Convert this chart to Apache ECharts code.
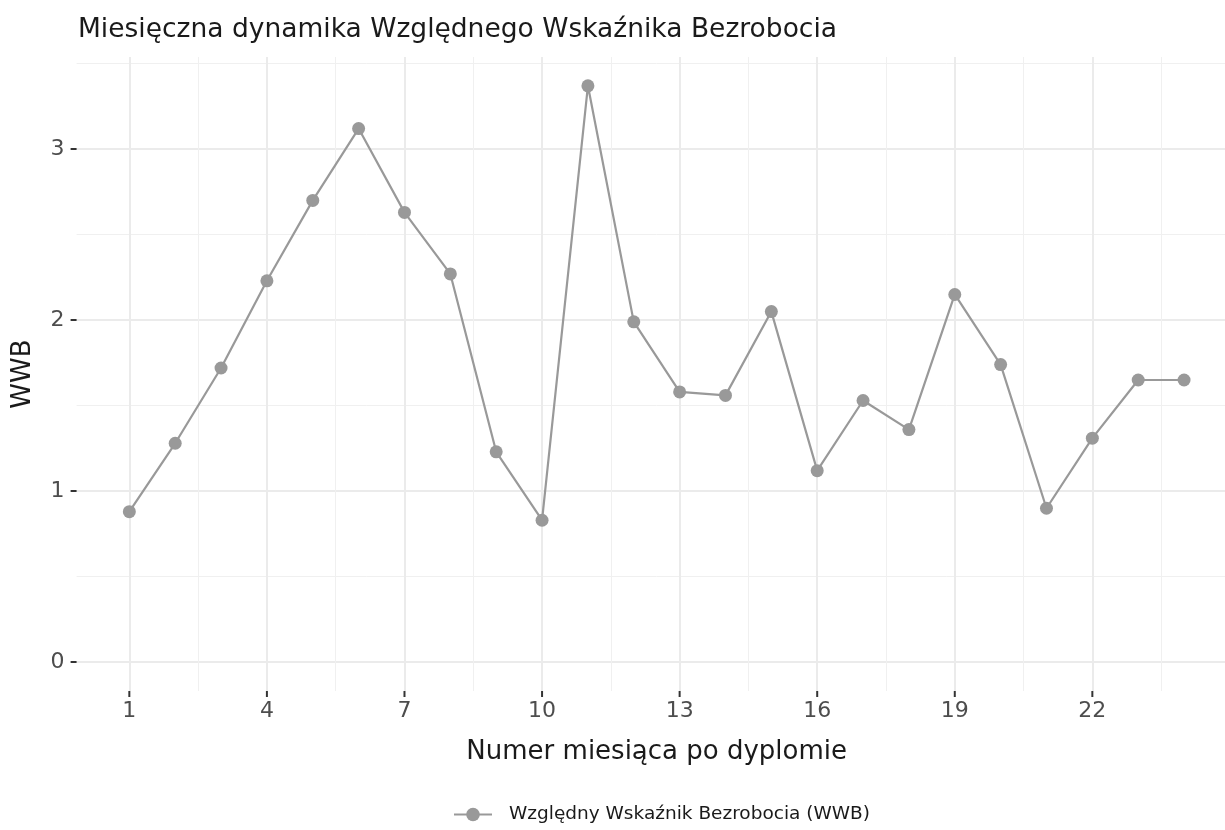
<!DOCTYPE html>
<html>
<head>
<meta charset="utf-8">
<script src="https://cdn.jsdelivr.net/npm/echarts@6/dist/echarts.min.js"></script>
<style>
    html, body { margin: 0; padding: 0; background: #fff; overflow: hidden; }
    /* panel wychodzi poza prawą krawędź, jak w oryginale */
    #main { width: 1240px; height: 830px; }
</style>
</head>
<body>
<div id="main"></div>
<script>
    // dane z wykresu
    var months = [1, 2, 3, 4, 5, 6, 7, 8, 9, 10, 11, 12, 13, 14, 15, 16, 17, 18, 19, 20, 21, 22, 23, 24];
    var wwb = [0.88, 1.28, 1.72, 2.23, 2.70, 3.12, 2.63, 2.27, 1.23, 0.83, 3.37, 1.99,
               1.58, 1.56, 2.05, 1.12, 1.53, 1.36, 2.15, 1.74, 0.90, 1.31, 1.65, 1.65];
    var xBreaks = [1, 4, 7, 10, 13, 16, 19, 22];
    var xMinor = [2.5, 5.5, 8.5, 11.5, 14.5, 17.5, 20.5, 23.5];
    var yBreaks = [0, 1, 2, 3];
    var yMinor = [0.5, 1.5, 2.5, 3.5];

    var fontName = '"DejaVu Sans", sans-serif';
    var seriesName = 'Względny Wskaźnik Bezrobocia (WWB)';
    var yMin = -0.1685, yMax = 3.5385;

    var pts = [];
    for (var i = 0; i < months.length; i++) {
        pts.push([months[i], wwb[i]]);
    }

    var chart = echarts.init(document.getElementById('main'));

    var option = {
        backgroundColor: '#ffffff',
        animation: false,
        textStyle: { fontFamily: fontName },
        title: {
            text: 'Miesięczna dynamika Względnego Wskaźnika Bezrobocia',
            left: 73,
            top: 12,
            textStyle: { fontFamily: fontName, fontSize: 26.5, fontWeight: 'normal', color: '#1a1a1a' }
        },
        legend: {
            bottom: 1,
            left: 448,
            itemWidth: 38,
            itemHeight: 17,
            textStyle: { fontFamily: fontName, fontSize: 18.5, color: '#1a1a1a', padding: [0, 0, 0, 12] },
            data: [seriesName]
        },
        grid: {
            left: 76.6,
            top: 57,
            width: 1160.2,
            bottom: 139,
            containLabel: false
        },
        xAxis: [{
            type: 'value',
            position: 'bottom',
            min: -0.15,
            max: 25.15,
            name: 'Numer miesiąca po dyplomie',
            nameLocation: 'middle',
            nameGap: 48,
            nameTextStyle: { fontFamily: fontName, fontSize: 26, color: '#1a1a1a' },
            axisLine: { show: false, onZero: false },
            axisTick: { show: false, customValues: xBreaks },
            axisLabel: { customValues: xBreaks, fontSize: 22, color: '#4d4d4d', margin: 9 },
            splitLine: { show: true, lineStyle: { color: '#ebebeb', width: 2 } }
        }, {
            type: 'value',
            position: 'top',
            min: -0.15,
            max: 25.15,
            axisLine: { show: false, onZero: false },
            axisTick: { show: false, customValues: xMinor },
            axisLabel: { show: false, customValues: xMinor },
            splitLine: { show: true, lineStyle: { color: '#f0f0f0', width: 1 } }
        }],
        yAxis: [{
            type: 'value',
            position: 'left',
            min: yMin,
            max: yMax,
            name: 'WWB',
            nameLocation: 'middle',
            nameGap: 40,
            nameTextStyle: { fontFamily: fontName, fontSize: 26, color: '#1a1a1a' },
            axisLine: { show: true, onZero: false, lineStyle: { color: 'rgba(0,0,0,0)', width: 0 } },
            axisTick: { show: true, length: 6, customValues: yBreaks, lineStyle: { color: '#333333', width: 2 } },
            axisLabel: { customValues: yBreaks, fontSize: 22, color: '#4d4d4d', margin: 12 },
            splitLine: { show: true, lineStyle: { color: '#ebebeb', width: 2 } }
        }, {
            type: 'value',
            position: 'right',
            min: yMin,
            max: yMax,
            axisLine: { show: false, onZero: false },
            axisTick: { show: false, customValues: yMinor },
            axisLabel: { show: false, customValues: yMinor },
            splitLine: { show: true, lineStyle: { color: '#f0f0f0', width: 1 } }
        }],
        series: [{
            name: seriesName,
            type: 'line',
            data: pts,
            symbol: 'circle',
            symbolSize: 13,
            showSymbol: true,
            lineStyle: { color: '#999999', width: 2.2 },
            itemStyle: { color: '#999999' },
            emphasis: { disabled: true }
        }]
    };

    chart.setOption(option);

    // kreski podziałki osi X pod panelem - pozycje liczone ze skali osi
    var yBottom = chart.convertToPixel({ yAxisIndex: 0 }, yMin);
    var tickMarks = [];
    for (var k = 0; k < xBreaks.length; k++) {
        var px = chart.convertToPixel({ xAxisIndex: 0 }, xBreaks[k]);
        tickMarks.push({
            type: 'line',
            silent: true,
            shape: { x1: px, y1: yBottom, x2: px, y2: yBottom + 6 },
            style: { stroke: '#333333', lineWidth: 2 }
        });
    }
    chart.setOption({ graphic: tickMarks });
</script>
</body>
</html>
